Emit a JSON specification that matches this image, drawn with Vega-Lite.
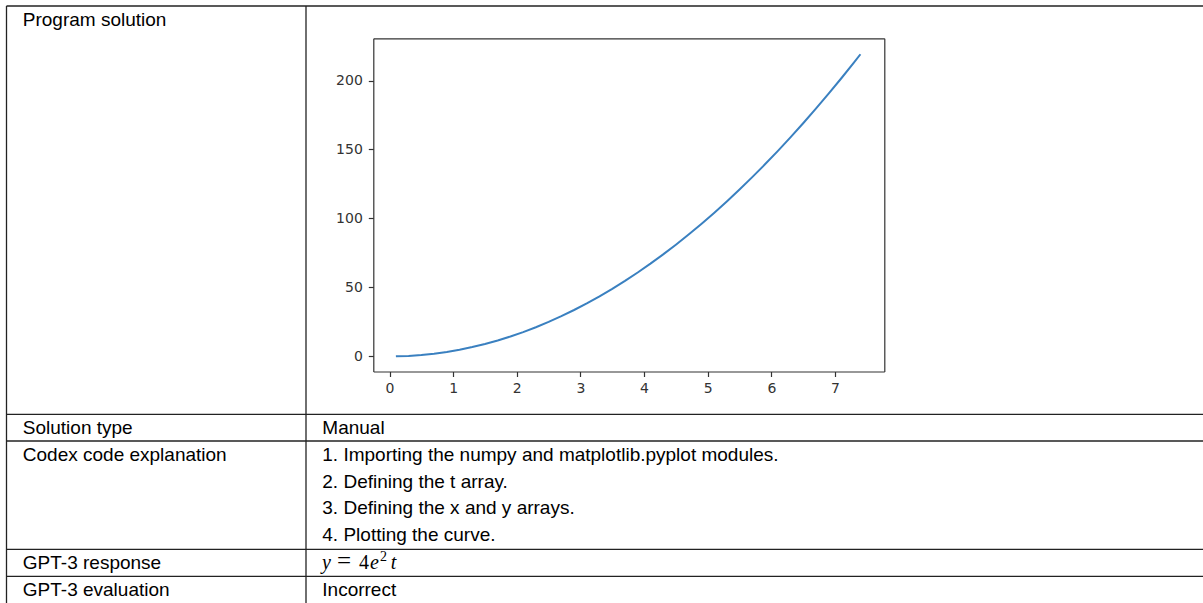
{
  "$schema": "https://vega.github.io/schema/vega-lite/v6.json",
  "width": 1203,
  "height": 603,
  "padding": 0,
  "autosize": "none",
  "background": "white",
  "config": {
    "view": {"stroke": null},
    "axis": {"grid": false, "labelFont": "DejaVu Sans", "labelFontSize": 14, "labelColor": "#333", "domainColor": "#333", "tickColor": "#333", "tickSize": 5, "domainWidth": 1.2, "tickWidth": 1.2}
  },
  "datasets": {
    "cells": [
      {"col": 0, "line": 0, "text": "Program solution"},
      {"col": 0, "line": 1, "text": "Solution type"},
      {"col": 1, "line": 1, "text": "Manual"},
      {"col": 0, "line": 2, "text": "Codex code explanation"},
      {"col": 1, "line": 2, "text": "1. Importing the numpy and matplotlib.pyplot modules."},
      {"col": 1, "line": 3, "text": "2. Defining the t array."},
      {"col": 1, "line": 4, "text": "3. Defining the x and y arrays."},
      {"col": 1, "line": 5, "text": "4. Plotting the curve."},
      {"col": 0, "line": 6, "text": "GPT-3 response"},
      {"col": 0, "line": 7, "text": "GPT-3 evaluation"},
      {"col": 1, "line": 7, "text": "Incorrect"}
    ],
    "hlines": [{"line": 0}, {"line": 1}, {"line": 2}, {"line": 6}, {"line": 7}],
    "vlines": [{"col": 0, "top": 0, "bottom": 9}, {"col": 1, "top": 0, "bottom": 9}, {"col": 2, "top": 0, "bottom": 9}],
    "math": [{"col": 1, "line": 6}],
    "curve": [
      {"x": 0.1, "y": 0.04}, {"x": 0.3, "y": 0.36}, {"x": 0.5, "y": 1.0}, {"x": 0.7, "y": 1.96},
      {"x": 0.9, "y": 3.24}, {"x": 1.1, "y": 4.84}, {"x": 1.3, "y": 6.76}, {"x": 1.5, "y": 9.0},
      {"x": 1.7, "y": 11.56}, {"x": 1.9, "y": 14.44}, {"x": 2.1, "y": 17.64}, {"x": 2.3, "y": 21.16},
      {"x": 2.5, "y": 25.0}, {"x": 2.7, "y": 29.16}, {"x": 2.9, "y": 33.64}, {"x": 3.1, "y": 38.44},
      {"x": 3.3, "y": 43.56}, {"x": 3.5, "y": 49.0}, {"x": 3.7, "y": 54.76}, {"x": 3.9, "y": 60.84},
      {"x": 4.1, "y": 67.24}, {"x": 4.3, "y": 73.96}, {"x": 4.5, "y": 81.0}, {"x": 4.7, "y": 88.36},
      {"x": 4.9, "y": 96.04}, {"x": 5.1, "y": 104.04}, {"x": 5.3, "y": 112.36}, {"x": 5.5, "y": 121.0},
      {"x": 5.7, "y": 129.96}, {"x": 5.9, "y": 139.24}, {"x": 6.1, "y": 148.84}, {"x": 6.3, "y": 158.76},
      {"x": 6.5, "y": 169.0}, {"x": 6.7, "y": 179.56}, {"x": 6.9, "y": 190.44}, {"x": 7.1, "y": 201.64},
      {"x": 7.3, "y": 213.16}, {"x": 7.4, "y": 219.04}
    ]
  },
  "layer": [
    {
      "layer": [
        {
          "data": {"name": "hlines"},
          "mark": {"type": "rule", "color": "#222", "strokeWidth": 1.3, "yOffset": -20},
          "encoding": {
            "x": {"datum": 0, "type": "quantitative", "scale": {"type": "linear", "domain": [0, 1, 2], "range": [6.5, 306, 1206], "nice": false, "zero": false}, "axis": null},
            "x2": {"datum": 2},
            "y": {"field": "line", "type": "quantitative", "scale": {"type": "linear", "domain": [0, 1, 5, 6, 7], "range": [26, 434.3, 541, 569.3, 596.3], "nice": false, "zero": false}, "axis": null}
          }
        },
        {
          "data": {"name": "vlines"},
          "mark": {"type": "rule", "color": "#222", "strokeWidth": 1.3, "yOffset": -20},
          "encoding": {
            "x": {"field": "col", "type": "quantitative", "scale": {"type": "linear", "domain": [0, 1, 2], "range": [6.5, 306, 1206], "nice": false, "zero": false}, "axis": null},
            "y": {"field": "top", "type": "quantitative", "scale": {"type": "linear", "domain": [0, 1, 5, 6, 7], "range": [26, 434.3, 541, 569.3, 596.3], "nice": false, "zero": false}, "axis": null},
            "y2": {"field": "bottom"}
          }
        },
        {
          "data": {"name": "cells"},
          "mark": {"type": "text", "align": "left", "baseline": "alphabetic", "dx": 16.3, "font": "Liberation Sans", "fontSize": 19, "color": "black"},
          "encoding": {
            "x": {"field": "col", "type": "quantitative", "scale": {"type": "linear", "domain": [0, 1, 2], "range": [6.5, 306, 1206], "nice": false, "zero": false}, "axis": null},
            "y": {"field": "line", "type": "quantitative", "scale": {"type": "linear", "domain": [0, 1, 5, 6, 7], "range": [26, 434.3, 541, 569.3, 596.3], "nice": false, "zero": false}, "axis": null},
            "text": {"field": "text"}
          }
        },
        {
          "data": {"name": "math"},
          "mark": {"type": "text", "align": "left", "baseline": "alphabetic", "dx": 16, "font": "Liberation Serif", "fontStyle": "italic", "fontSize": 20, "color": "black", "text": "y"},
          "encoding": {
            "x": {"field": "col", "type": "quantitative", "scale": {"type": "linear", "domain": [0, 1, 2], "range": [6.5, 306, 1206], "nice": false, "zero": false}, "axis": null},
            "y": {"field": "line", "type": "quantitative", "scale": {"type": "linear", "domain": [0, 1, 5, 6, 7], "range": [26, 434.3, 541, 569.3, 596.3], "nice": false, "zero": false}, "axis": null}
          }
        },
        {
          "data": {"name": "math"},
          "mark": {"type": "text", "align": "center", "baseline": "alphabetic", "dx": 38, "font": "Liberation Serif", "fontSize": 25, "color": "black", "text": "="},
          "encoding": {
            "x": {"field": "col", "type": "quantitative", "scale": {"type": "linear", "domain": [0, 1, 2], "range": [6.5, 306, 1206], "nice": false, "zero": false}, "axis": null},
            "y": {"field": "line", "type": "quantitative", "scale": {"type": "linear", "domain": [0, 1, 5, 6, 7], "range": [26, 434.3, 541, 569.3, 596.3], "nice": false, "zero": false}, "axis": null}
          }
        },
        {
          "data": {"name": "math"},
          "mark": {"type": "text", "align": "center", "baseline": "alphabetic", "dx": 58, "font": "Liberation Serif", "fontSize": 20, "color": "black", "text": "4"},
          "encoding": {
            "x": {"field": "col", "type": "quantitative", "scale": {"type": "linear", "domain": [0, 1, 2], "range": [6.5, 306, 1206], "nice": false, "zero": false}, "axis": null},
            "y": {"field": "line", "type": "quantitative", "scale": {"type": "linear", "domain": [0, 1, 5, 6, 7], "range": [26, 434.3, 541, 569.3, 596.3], "nice": false, "zero": false}, "axis": null}
          }
        },
        {
          "data": {"name": "math"},
          "mark": {"type": "text", "align": "center", "baseline": "alphabetic", "dx": 68.5, "font": "Liberation Serif", "fontStyle": "italic", "fontSize": 20, "color": "black", "text": "e"},
          "encoding": {
            "x": {"field": "col", "type": "quantitative", "scale": {"type": "linear", "domain": [0, 1, 2], "range": [6.5, 306, 1206], "nice": false, "zero": false}, "axis": null},
            "y": {"field": "line", "type": "quantitative", "scale": {"type": "linear", "domain": [0, 1, 5, 6, 7], "range": [26, 434.3, 541, 569.3, 596.3], "nice": false, "zero": false}, "axis": null}
          }
        },
        {
          "data": {"name": "math"},
          "mark": {"type": "text", "align": "center", "baseline": "alphabetic", "dx": 77.5, "dy": -8, "font": "Liberation Serif", "fontSize": 14, "color": "black", "text": "2"},
          "encoding": {
            "x": {"field": "col", "type": "quantitative", "scale": {"type": "linear", "domain": [0, 1, 2], "range": [6.5, 306, 1206], "nice": false, "zero": false}, "axis": null},
            "y": {"field": "line", "type": "quantitative", "scale": {"type": "linear", "domain": [0, 1, 5, 6, 7], "range": [26, 434.3, 541, 569.3, 596.3], "nice": false, "zero": false}, "axis": null}
          }
        },
        {
          "data": {"name": "math"},
          "mark": {"type": "text", "align": "center", "baseline": "alphabetic", "dx": 87.5, "font": "Liberation Serif", "fontStyle": "italic", "fontSize": 20, "color": "black", "text": "t"},
          "encoding": {
            "x": {"field": "col", "type": "quantitative", "scale": {"type": "linear", "domain": [0, 1, 2], "range": [6.5, 306, 1206], "nice": false, "zero": false}, "axis": null},
            "y": {"field": "line", "type": "quantitative", "scale": {"type": "linear", "domain": [0, 1, 5, 6, 7], "range": [26, 434.3, 541, 569.3, 596.3], "nice": false, "zero": false}, "axis": null}
          }
        }
      ]
    },
    {
      "data": {"name": "curve"},
      "mark": {"type": "line", "color": "#3a80c0", "strokeWidth": 2},
      "encoding": {
        "x": {"field": "x", "type": "quantitative", "scale": {"domain": [-0.255, 7.775], "range": [373.3, 884.3], "nice": false, "zero": false},
              "axis": {"orient": "bottom", "offset": -231.5, "values": [0, 1, 2, 3, 4, 5, 6, 7], "title": null, "labelPadding": 5, "format": "d"}},
        "y": {"field": "y", "type": "quantitative", "scale": {"domain": [-10.94, 230.6], "range": [371.5, 38.3], "nice": false, "zero": false},
              "axis": {"orient": "left", "offset": -373.3, "values": [0, 50, 100, 150, 200], "title": null, "labelPadding": 6, "format": "d"}}
      }
    },
    {
      "data": {"name": "curve"},
      "mark": {"type": "line", "opacity": 0},
      "encoding": {
        "x": {"field": "x", "type": "quantitative", "scale": {"domain": [-0.255, 7.775], "range": [373.3, 884.3], "nice": false, "zero": false},
              "axis": {"orient": "top", "offset": -38.3, "ticks": false, "labels": false, "title": null}},
        "y": {"field": "y", "type": "quantitative", "scale": {"domain": [-10.94, 230.6], "range": [371.5, 38.3], "nice": false, "zero": false},
              "axis": {"orient": "right", "offset": -318.7, "ticks": false, "labels": false, "title": null}}
      }
    }
  ],
  "resolve": {"scale": {"x": "independent", "y": "independent"}, "axis": {"x": "independent", "y": "independent"}}
}
